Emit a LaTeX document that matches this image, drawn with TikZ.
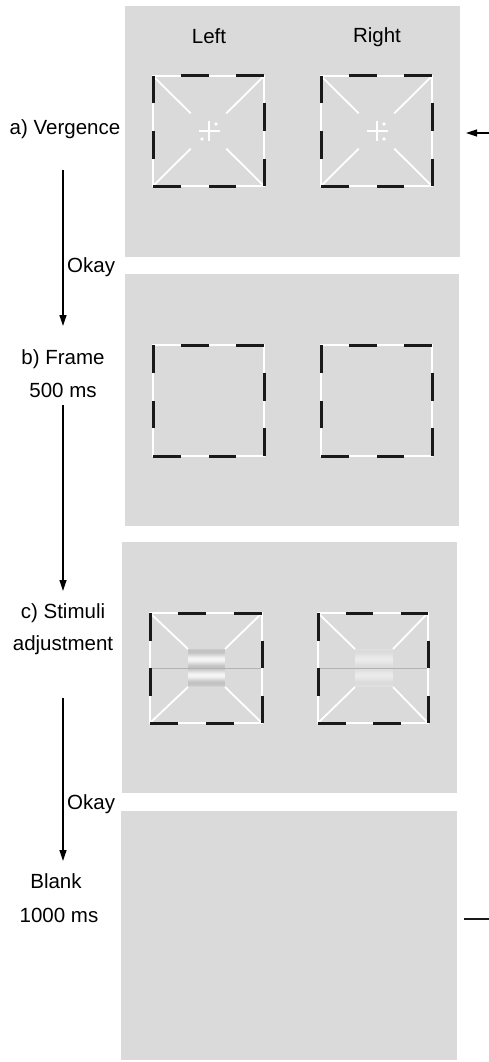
\documentclass[tikz,border=0pt]{standalone}
\usepackage{fontspec}
\setmainfont{Liberation Sans}
\usetikzlibrary{calc,arrows.meta}
\definecolor{panel}{gray}{0.855}
\definecolor{ink}{gray}{0.1}
\definecolor{midline}{gray}{0.7}
\tikzset{
 panelbox/.style={fill=panel,draw=none},
 wseg/.style={draw=white,line width=2.2pt},
 bseg/.style={draw=ink,line width=3pt},
 diag/.style={draw=white,line width=1.8pt},
 fixw/.style={draw=white,line width=2pt},
 lbl/.style={font=\fontsize{20.5}{24}\selectfont,inner sep=0pt,anchor=base},
 flow/.style={draw=black,line width=1.2pt,-{Triangle[length=11pt,width=7pt]}},
}
\newcommand\dashframe[5]{%
 \coordinate (#1-tl) at (#2,#3);
 \coordinate (#1-tr) at (#4,#3);
 \coordinate (#1-br) at (#4,#5);
 \coordinate (#1-bl) at (#2,#5);
 \draw[wseg] (#1-tl) rectangle (#1-br);
 \foreach \a/\b in {tl/tr,tr/br,br/bl,bl/tl}{
  \draw[bseg] ($(#1-\a)!0.25!(#1-\b)$) -- ($(#1-\a)!0.5!(#1-\b)$);
  \draw[bseg] ($(#1-\a)!0.75!(#1-\b)$) -- (#1-\b);
 }}
\newcommand\grating[5]{% x1,y1,x2,amp,mean
 \foreach \i in {0,...,37}{
  \pgfmathsetmacro\gv{#5-#4*cos(360*(\i-2)/16)}
  \definecolor{gc}{gray}{\gv}
  \fill[gc] (#1,#2+\i) rectangle (#3,#2+\i+1);
 }}
\begin{document}
\begin{tikzpicture}[x=1pt,y=-1pt]
\useasboundingbox (0,0) rectangle (489,1062);
% panels
\fill[panelbox] (125,6) rectangle (460,257);
\fill[panelbox] (125,274) rectangle (459,526);
\fill[panelbox] (122,542) rectangle (457,793);
\fill[panelbox] (121,811) rectangle (457,1060);
% headers
\node[lbl] (hl) at (209,44) {Left};
\node[lbl] (hr) at (377,43) {Right};
% panel a
\coordinate (L1-c) at (208.5,131);
\coordinate (R1-c) at (376.5,131);
\foreach \k/\x/\y in {tl/153/76,tr/264/76,br/264/186,bl/153/186}{
 \draw[diag] (\x,\y) -- ($(\x,\y)!0.68!(L1-c)$);}
\foreach \k/\x/\y in {tl/321/76,tr/432/76,br/432/186,bl/321/186}{
 \draw[diag] (\x,\y) -- ($(\x,\y)!0.68!(R1-c)$);}
\dashframe{L1}{153}{76}{264}{186}
\dashframe{R1}{321}{76}{432}{186}
\draw[fixw] (199,131) -- (220,131);
\draw[fixw] (208.5,121) -- (208.5,141);
\fill[white] (216,124) circle (1.8);
\fill[white] (202,139) circle (1.8);
\draw[fixw] (367,131) -- (388,131);
\draw[fixw] (376.5,121) -- (376.5,141);
\fill[white] (384,124) circle (1.8);
\fill[white] (384,139) circle (1.8);
% panel b
\dashframe{L2}{153}{345}{264}{456}
\dashframe{R2}{321}{345}{432}{456}
% panel c
\foreach \a/\b/\c/\d in {150/613/188/649,262/613/225/649,262/723/225/687,150/723/188/687}{
 \draw[diag] (\a,\b) -- (\c,\d);}
\foreach \a/\b/\c/\d in {318/613/355/649,428/613/393/649,428/723/393/687,318/723/355/687}{
 \draw[diag] (\a,\b) -- (\c,\d);}
\grating{188}{649}{225}{0.1}{0.86}
\grating{355}{649}{393}{0.03}{0.89}
\draw[midline,line width=1pt] (150,668) -- (262,668);
\draw[midline,line width=1pt] (318,668) -- (428,668);
\dashframe{L3}{150}{613}{262}{723}
\dashframe{R3}{318}{613}{428}{723}
% left labels
\node[lbl] (va) at (65,135) {a) Vergence};
\node[lbl,anchor=base west] (ok1) at (67,272) {Okay};
\node[lbl] (fb) at (63,364) {b) Frame};
\node[lbl] (fbt) at (63,397) {500 ms};
\node[lbl] (sc) at (63,618) {c) Stimuli};
\node[lbl] (scb) at (63,650) {adjustment};
\node[lbl,anchor=base west] (ok2) at (67,809) {Okay};
\node[lbl] (bl) at (56,888) {Blank};
\node[lbl] (blt) at (59,922) {1000 ms};
% flow arrows
\coordinate (a1s) at (63,170); \coordinate (a1e) at (63,326);
\coordinate (a2s) at (63,405); \coordinate (a2e) at (63,591);
\coordinate (a3s) at (63,698); \coordinate (a3e) at (63,861);
\draw[flow] (a1s) -- (a1e);
\draw[flow] (a2s) -- (a2e);
\draw[flow] (a3s) -- (a3e);
% right markers
\coordinate (ms) at (490,133); \coordinate (me) at (466,133);
\draw[flow] (ms) -- (me);
\coordinate (ns) at (464,919); \coordinate (ne) at (490,919);
\draw[ink,line width=2pt] (ns) -- (ne);
\end{tikzpicture}
\end{document}
